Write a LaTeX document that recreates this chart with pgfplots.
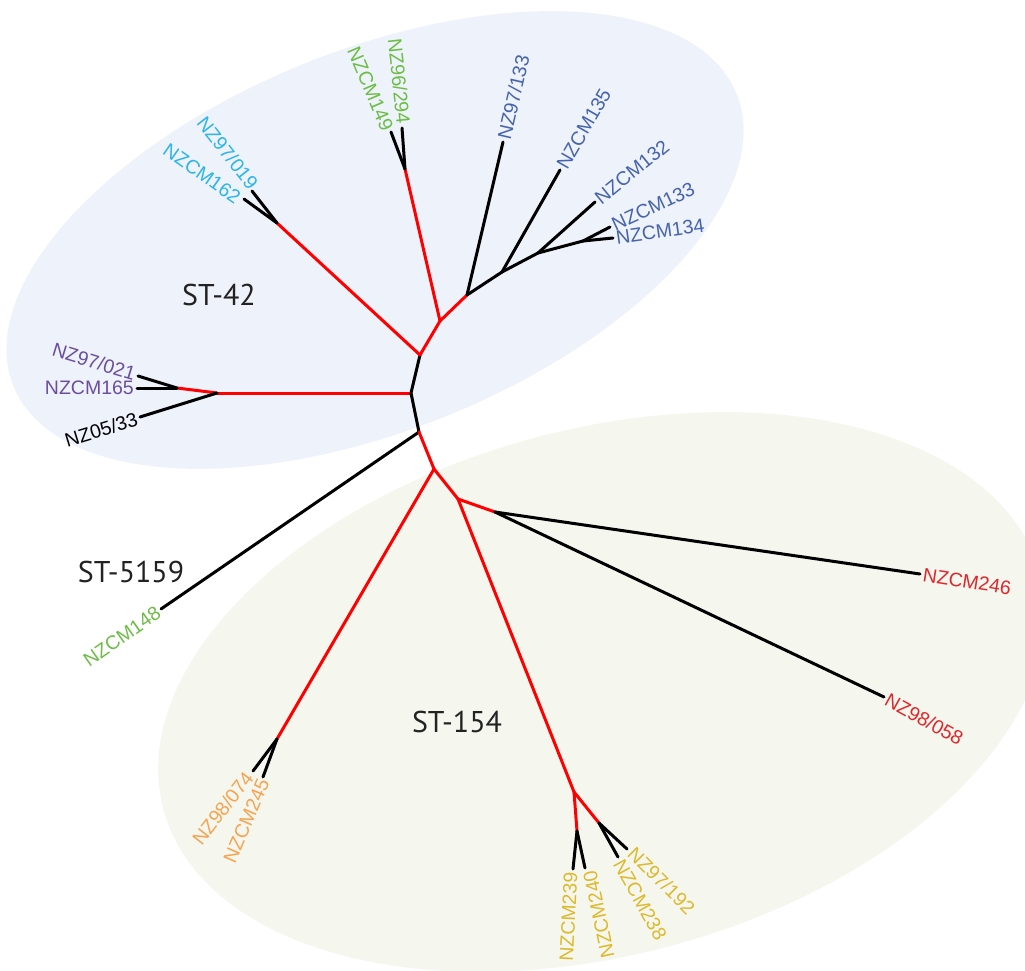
\documentclass[border=0pt]{standalone}
\usepackage{fontspec}
\setmainfont{Liberation Sans}
\newfontfamily\stfont{PT Sans}
\usepackage{pgfplots}
\pgfplotsset{compat=1.18}
\definecolor{bgblue}{HTML}{EEF2FA}
\definecolor{bggreen}{HTML}{F5F7EE}
\definecolor{brred}{HTML}{FF0000}
\definecolor{cgreen}{HTML}{6CBD45}
\definecolor{clblue}{HTML}{2BB5EA}
\definecolor{cdblue}{HTML}{4563AE}
\definecolor{cpurple}{HTML}{6B4E9E}
\definecolor{cred}{HTML}{E0262B}
\definecolor{corange}{HTML}{F7A350}
\definecolor{cyellow}{HTML}{DDB92B}
\definecolor{stgray}{HTML}{222222}
\tikzset{
  blk/.style={black, line width=3pt, line cap=round, line join=round},
  rd/.style={brred, line width=3pt, line cap=round, line join=round},
  lab/.style={font=\fontsize{19.5}{22}\selectfont, inner sep=3pt},
  stl/.style={font=\stfont\fontsize{30}{34}\selectfont, text=stgray}}
\begin{document}
\begin{tikzpicture}
\begin{axis}[scale only axis, width=1025pt, height=971pt,
  xmin=0, xmax=1025, ymin=0, ymax=971, y dir=reverse, hide axis, clip=true]
% background groups
\fill[bgblue, overlay, rotate around={22:(axis cs:375,240)}] (axis cs:375,240) ellipse [x radius=390pt, y radius=190pt];
\fill[bggreen, overlay, rotate around={15:(axis cs:602,692)}] (axis cs:602,692) ellipse [x radius=454pt, y radius=263pt];
% ST-42 clade
\addplot[blk, no markers] coordinates {(411,393) (420,355)};
\addplot[rd, no markers] coordinates {(420,355) (277,223)};
\addplot[blk, no markers] coordinates {(277,223) (252,191)};
\addplot[blk, no markers] coordinates {(277,223) (244,199)};
\addplot[rd, no markers] coordinates {(420,355) (440,321)};
\addplot[rd, no markers] coordinates {(440,321) (405,169)};
\addplot[blk, no markers] coordinates {(405,169) (391,132)};
\addplot[blk, no markers] coordinates {(405,169) (402,128)};
\addplot[rd, no markers] coordinates {(440,321) (467,295)};
\addplot[blk, no markers] coordinates {(467,295) (503,142)};
\addplot[blk, no markers] coordinates {(467,295) (502,272)};
\addplot[blk, no markers] coordinates {(502,272) (560,170)};
\addplot[blk, no markers] coordinates {(502,272) (538,253)};
\addplot[blk, no markers] coordinates {(538,253) (595,202)};
\addplot[blk, no markers] coordinates {(538,253) (583,241)};
\addplot[blk, no markers] coordinates {(583,241) (610,227)};
\addplot[blk, no markers] coordinates {(583,241) (613,238)};
\addplot[rd, no markers] coordinates {(411,393) (217,393)};
\addplot[rd, no markers] coordinates {(217,393) (177,388)};
\addplot[blk, no markers] coordinates {(177,388) (138,376)};
\addplot[blk, no markers] coordinates {(177,388) (137,388)};
\addplot[blk, no markers] coordinates {(217,393) (140,417)};
% ST-5159
\addplot[blk, no markers] coordinates {(411,393) (419,432)};
\addplot[blk, no markers] coordinates {(419,432) (161,609)};
% ST-154 clade
\addplot[rd, no markers] coordinates {(419,432) (434,469)};
\addplot[rd, no markers] coordinates {(434,469) (277,739)};
\addplot[blk, no markers] coordinates {(277,739) (253,771)};
\addplot[blk, no markers] coordinates {(277,739) (263,777)};
\addplot[rd, no markers] coordinates {(434,469) (458,499)};
\addplot[rd, no markers] coordinates {(458,499) (495,512)};
\addplot[blk, no markers] coordinates {(495,512) (920,574)};
\addplot[blk, no markers] coordinates {(495,512) (884,697)};
\addplot[rd, no markers] coordinates {(458,499) (574,792)};
\addplot[rd, no markers] coordinates {(574,792) (577,831)};
\addplot[blk, no markers] coordinates {(577,831) (573,869)};
\addplot[blk, no markers] coordinates {(577,831) (585,868)};
\addplot[rd, no markers] coordinates {(574,792) (599,823)};
\addplot[blk, no markers] coordinates {(599,823) (618,857)};
\addplot[blk, no markers] coordinates {(599,823) (627,849)};
% tip labels
\node[lab, text=cgreen, rotate=-67, anchor=east] at (axis cs:389,133) {NZCM149};
\node[lab, text=cgreen, rotate=-84, anchor=east] at (axis cs:404,127) {NZ96/294};
\node[lab, text=cdblue, rotate=77, anchor=west] at (axis cs:503,142) {NZ97/133};
\node[lab, text=cdblue, rotate=60, anchor=west] at (axis cs:560,170) {NZCM135};
\node[lab, text=cdblue, rotate=39, anchor=west] at (axis cs:595,202) {NZCM132};
\node[lab, text=cdblue, rotate=25, anchor=west] at (axis cs:610,227) {NZCM133};
\node[lab, text=cdblue, rotate=8, anchor=west] at (axis cs:613,238) {NZCM134};
\node[lab, text=clblue, rotate=-52, anchor=east] at (axis cs:256,189) {NZ97/019};
\node[lab, text=clblue, rotate=-35, anchor=east] at (axis cs:241,201) {NZCM162};
\node[lab, text=cpurple, rotate=-17, anchor=east] at (axis cs:138,375) {NZ97/021};
\node[lab, text=cpurple, rotate=0, anchor=east] at (axis cs:137,388) {NZCM165};
\node[lab, text=black, rotate=17, anchor=east] at (axis cs:140,418) {NZ05/33};
\node[lab, text=cgreen, rotate=35, anchor=east] at (axis cs:161,609) {NZCM148};
\node[lab, text=corange, rotate=52, anchor=east] at (axis cs:251,772) {NZ98/074};
\node[lab, text=corange, rotate=67, anchor=east] at (axis cs:265,777) {NZCM245};
\node[lab, text=cyellow, rotate=87, anchor=east] at (axis cs:571,869) {NZCM239};
\node[lab, text=cyellow, rotate=102, anchor=east] at (axis cs:589,868) {NZCM240};
\node[lab, text=cyellow, rotate=-61, anchor=west] at (axis cs:617,858) {NZCM238};
\node[lab, text=cyellow, rotate=-45, anchor=west] at (axis cs:629,848) {NZ97/192};
\node[lab, text=cred, rotate=-9, anchor=west] at (axis cs:920,574) {NZCM246};
\node[lab, text=cred, rotate=-29, anchor=west] at (axis cs:884,697) {NZ98/058};
% group labels
\node[stl] at (axis cs:219,295) {ST-42};
\node[stl] at (axis cs:131,572) {ST-5159};
\node[stl] at (axis cs:457,722) {ST-154};
\end{axis}
\pgfresetboundingbox
\path (current axis.south west) rectangle (current axis.north east);
\end{tikzpicture}
\end{document}
